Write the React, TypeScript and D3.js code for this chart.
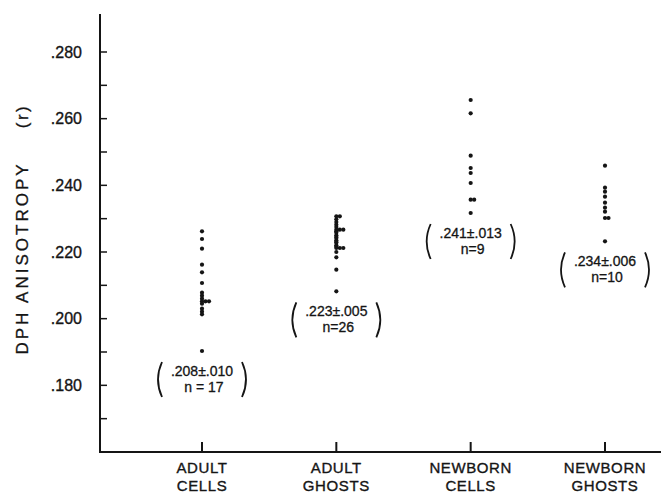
import React from "react";
import * as d3 from "d3";

const categories = ["ADULT\nCELLS", "ADULT\nGHOSTS", "NEWBORN\nCELLS", "NEWBORN\nGHOSTS"];

const adultCells = [0.2262, 0.2239, 0.221, 0.2162, 0.2139, 0.2107, 0.2078, 0.2069, 0.206, 0.2052, 0.2052, 0.2052, 0.2045, 0.203, 0.2021, 0.2013, 0.1903];
const adultGhosts = [0.2307, 0.2307, 0.2298, 0.229, 0.2282, 0.2275, 0.2267, 0.2267, 0.2267, 0.2262, 0.2258, 0.225, 0.2245, 0.2242, 0.2235, 0.223, 0.2228, 0.222, 0.2216, 0.2212, 0.2212, 0.2212, 0.22, 0.2184, 0.2147, 0.2082];
const newbornCells = [0.2656, 0.2616, 0.2489, 0.2452, 0.2437, 0.2407, 0.2357, 0.2357, 0.2317];
const newbornGhosts = [0.2459, 0.2393, 0.2381, 0.2366, 0.2348, 0.2333, 0.2321, 0.2302, 0.2302, 0.2232];

const series = [adultCells, adultGhosts, newbornCells, newbornGhosts];
const meanLabels = [".208\u00b1.010", ".223\u00b1.005", ".241\u00b1.013", ".234\u00b1.006"];
const nLabels = ["n = 17", "n=26", "n=9", "n=10"];

const majorTicks = [0.18, 0.2, 0.22, 0.24, 0.26, 0.28];
const minorTicks = [0.17, 0.19, 0.21, 0.23, 0.25, 0.27];
const tickLabels = [".180", ".200", ".220", ".240", ".260", ".280"];

const W = 661, H = 494;
const axisX = 100, axisY = 452, axisTop = 14;
const ink = "#151515";
const font = "'Liberation Sans', Arial, sans-serif";

export default function App() {
  const y = d3.scaleLinear().domain([0.16, 0.2914]).range([axisY, axisTop]);
  const x = d3.scalePoint<string>().domain(categories).range([202, 605]);

  return (
    <svg width={W} height={H} style={{ position: "absolute", left: 0, top: 0, background: "#fff" }}>
      <rect width={W} height={H} fill="#fff" />
      {/* axes */}
      <line x1={axisX} y1={axisTop} x2={axisX} y2={axisY + 1} stroke={ink} strokeWidth={2} />
      <line x1={axisX - 1} y1={axisY} x2={W} y2={axisY} stroke={ink} strokeWidth={2} />
      {majorTicks.concat(minorTicks).map((t) => (
        <line key={t} x1={axisX} x2={axisX + 7} y1={y(t)} y2={y(t)} stroke={ink} strokeWidth={1.5} />
      ))}
      {majorTicks.map((t, i) => (
        <text key={t} x={82} y={y(t)} dy="0.35em" textAnchor="end" fontFamily={font} fontSize={16} fill={ink} stroke={ink} strokeWidth={0.35}>
          {tickLabels[i]}
        </text>
      ))}
      {categories.map((c) => (
        <line key={c} x1={x(c)} x2={x(c)} y1={axisY} y2={axisY - 10} stroke={ink} strokeWidth={2} />
      ))}
      {categories.map((c) => {
        const [a, b] = c.split("\n");
        return (
          <text key={c} x={x(c)} textAnchor="middle" fontFamily={font} fontSize={15} fill={ink} stroke={ink} strokeWidth={0.35} letterSpacing={0.6}>
            <tspan x={x(c)} y={473}>{a}</tspan>
            <tspan x={x(c)} y={491}>{b}</tspan>
          </text>
        );
      })}
      {/* y label */}
      <text transform={`translate(28,258) rotate(-90)`} textAnchor="middle" fontFamily={font} fontSize={17} fill={ink} stroke={ink} strokeWidth={0.3} letterSpacing={3}>
        DPH ANISOTROPY
      </text>
      <text transform={`translate(28,116) rotate(-90)`} textAnchor="middle" fontFamily={font} fontSize={17} fill={ink} stroke={ink} strokeWidth={0.3} letterSpacing={2.5}>
        (r)
      </text>
      {/* points */}
      {series.map((vals, si) => {
        const seen = new Map<number, number>();
        const cx0 = x(categories[si]) as number;
        return vals.map((v, i) => {
          const k = seen.get(v) ?? 0;
          seen.set(v, k + 1);
          return <circle key={si + "-" + i} cx={cx0 + k * 3.5} cy={y(v)} r={2.1} fill={ink} />;
        });
      })}
      {/* annotations */}
      {series.map((vals, si) => {
        const cx0 = x(categories[si]) as number;
        const low = y(d3.min(vals) as number);
        const top = low + 11;
        const bot = low + 46;
        const hw = 43;
        return (
          <g key={"a" + si} fill={ink} fontFamily={font} stroke={ink} strokeWidth={0.3}>
            <path d={`M${cx0 - hw + 3},${top} Q${cx0 - hw - 5},${(top + bot) / 2} ${cx0 - hw + 3},${bot}`} fill="none" stroke={ink} strokeWidth={1.8} />
            <path d={`M${cx0 + hw - 3},${top} Q${cx0 + hw + 5},${(top + bot) / 2} ${cx0 + hw - 3},${bot}`} fill="none" stroke={ink} strokeWidth={1.8} />
            <text x={cx0} y={low + 25} textAnchor="middle" fontSize={14}>{meanLabels[si]}</text>
            <text x={cx0 + 2} y={low + 41} textAnchor="middle" fontSize={14}>{nLabels[si]}</text>
          </g>
        );
      })}
    </svg>
  );
}
